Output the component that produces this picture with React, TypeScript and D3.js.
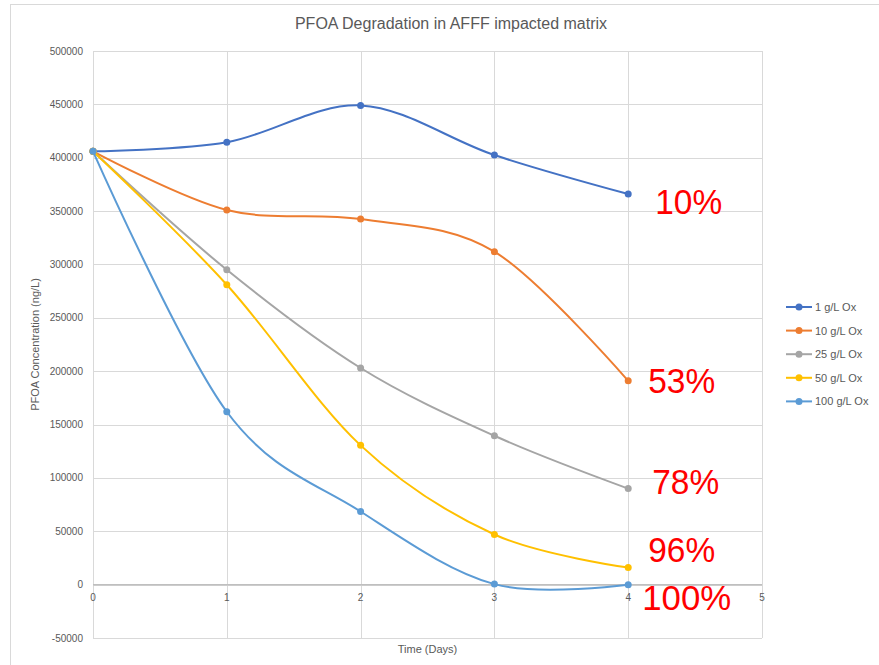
import * as d3 from "d3";
import { useEffect, useRef } from "react";

const days = [0, 1, 2, 3, 4];
const seriesNames = ["1 g/L Ox", "10 g/L Ox", "25 g/L Ox", "50 g/L Ox", "100 g/L Ox"];
const seriesColors = ["#4472C4", "#ED7D31", "#A5A5A5", "#FFC000", "#5B9BD5"];
const ox1 = [406000, 414500, 449000, 402500, 366000];
const ox10 = [406000, 351000, 342500, 312000, 191000];
const ox25 = [406000, 295000, 203000, 139500, 90000];
const ox50 = [406000, 281000, 130500, 47000, 16000];
const ox100 = [406000, 162000, 68500, 500, 0];
const removal = ["10%", "53%", "78%", "96%", "100%"];
const yTicks = [-50000, 0, 50000, 100000, 150000, 200000, 250000, 300000, 350000, 400000, 450000, 500000];
const xTicks = [0, 1, 2, 3, 4, 5];

const App = () => {
  const ref = useRef<SVGSVGElement | null>(null);

  useEffect(() => {
    const svg = d3.select(ref.current);
    svg.selectAll("*").remove();
    const W = 879, H = 665;
    const left = 93, right = 762, top = 51, bottom = 638;
    const font = "'Liberation Sans', Arial, sans-serif";
    const grey = "#595959";

    svg.append("rect").attr("width", W).attr("height", H).attr("fill", "#fff");
    // chart frame
    svg.append("rect")
      .attr("x", 10.5).attr("y", 4.5)
      .attr("width", W + 20).attr("height", H + 20)
      .attr("fill", "#fff").attr("stroke", "#d9d9d9");

    const x = d3.scaleLinear().domain([0, 5]).range([left, right]);
    const y = d3.scaleLinear().domain([-50000, 500000]).range([bottom, top]);

    // grid
    const g = svg.append("g");
    g.selectAll(".hg").data(yTicks).enter().append("line")
      .attr("x1", left).attr("x2", right)
      .attr("y1", (d) => Math.round(y(d)) + 0.5).attr("y2", (d) => Math.round(y(d)) + 0.5)
      .attr("stroke", "#d9d9d9").attr("stroke-width", 1);
    g.selectAll(".vg").data(xTicks).enter().append("line")
      .attr("y1", top).attr("y2", bottom)
      .attr("x1", (d) => Math.round(x(d)) + 0.5).attr("x2", (d) => Math.round(x(d)) + 0.5)
      .attr("stroke", "#d9d9d9").attr("stroke-width", 1);
    // zero axis
    g.append("line")
      .attr("x1", left).attr("x2", right)
      .attr("y1", y(0)).attr("y2", y(0))
      .attr("stroke", "#bfbfbf").attr("stroke-width", 1.5);

    // y tick labels
    g.selectAll(".yl").data(yTicks).enter().append("text")
      .attr("x", left - 10).attr("y", (d) => y(d) + 3.5)
      .attr("text-anchor", "end").attr("font-family", font).attr("font-size", 10)
      .attr("fill", grey).text((d) => String(d));
    // x tick labels
    g.selectAll(".xl").data(xTicks).enter().append("text")
      .attr("x", (d) => x(d)).attr("y", y(0) + 16)
      .attr("text-anchor", "middle").attr("font-family", font).attr("font-size", 10)
      .attr("fill", grey).text((d) => String(d));

    // titles
    svg.append("text")
      .attr("x", 451).attr("y", 29)
      .attr("text-anchor", "middle").attr("font-family", font).attr("font-size", 16)
      .attr("fill", grey).text("PFOA Degradation in AFFF impacted matrix");
    svg.append("text")
      .attr("x", (left + right) / 2).attr("y", 653)
      .attr("text-anchor", "middle").attr("font-family", font).attr("font-size", 11)
      .attr("fill", grey).text("Time (Days)");
    svg.append("text")
      .attr("transform", `translate(39,${(top + bottom) / 2}) rotate(-90)`)
      .attr("text-anchor", "middle").attr("font-family", font).attr("font-size", 11)
      .attr("fill", grey).text("PFOA Concentration (ng/L)");

    const series = [ox1, ox10, ox25, ox50, ox100];
    const line = d3.line<number>()
      .x((_, i) => x(days[i]))
      .y((d) => y(d))
      .curve(d3.curveCatmullRom.alpha(0));

    series.forEach((vals, si) => {
      const sg = svg.append("g");
      sg.append("path")
        .attr("d", line(vals))
        .attr("fill", "none").attr("stroke", seriesColors[si]).attr("stroke-width", 2);
      sg.selectAll("circle").data(vals).enter().append("circle")
        .attr("cx", (_, i) => x(days[i])).attr("cy", (d) => y(d))
        .attr("r", 3.5).attr("fill", seriesColors[si]);
    });

    // removal labels, placed beside the last point of each series
    const labelDx = [27, 20, 24, 20, 14];
    const labelDy = [20, 12, 5, -6, 25];
    series.forEach((vals, si) => {
      svg.append("text")
        .attr("x", x(days[4]) + labelDx[si])
        .attr("y", y(vals[4]) + labelDy[si])
        .attr("font-family", font).attr("font-size", 35)
        .attr("textLength", removal[si].length === 4 ? 89 : 67)
        .attr("lengthAdjust", "spacingAndGlyphs")
        .attr("fill", "#ff0000").text(removal[si]);
    });

    // legend
    const lg = svg.append("g");
    seriesNames.forEach((name, i) => {
      const ly = 307 + i * 23.6;
      lg.append("line").attr("x1", 786).attr("x2", 812).attr("y1", ly).attr("y2", ly)
        .attr("stroke", seriesColors[i]).attr("stroke-width", 2);
      lg.append("circle").attr("cx", 799).attr("cy", ly).attr("r", 3.5).attr("fill", seriesColors[i]);
      lg.append("text").attr("x", 815).attr("y", ly + 4)
        .attr("font-family", font).attr("font-size", 11).attr("fill", grey).text(name);
    });
  }, []);

  return (
    <svg ref={ref} width={879} height={665}
      style={{ position: "absolute", left: 0, top: 0, display: "block" }} />
  );
};

export default App;
